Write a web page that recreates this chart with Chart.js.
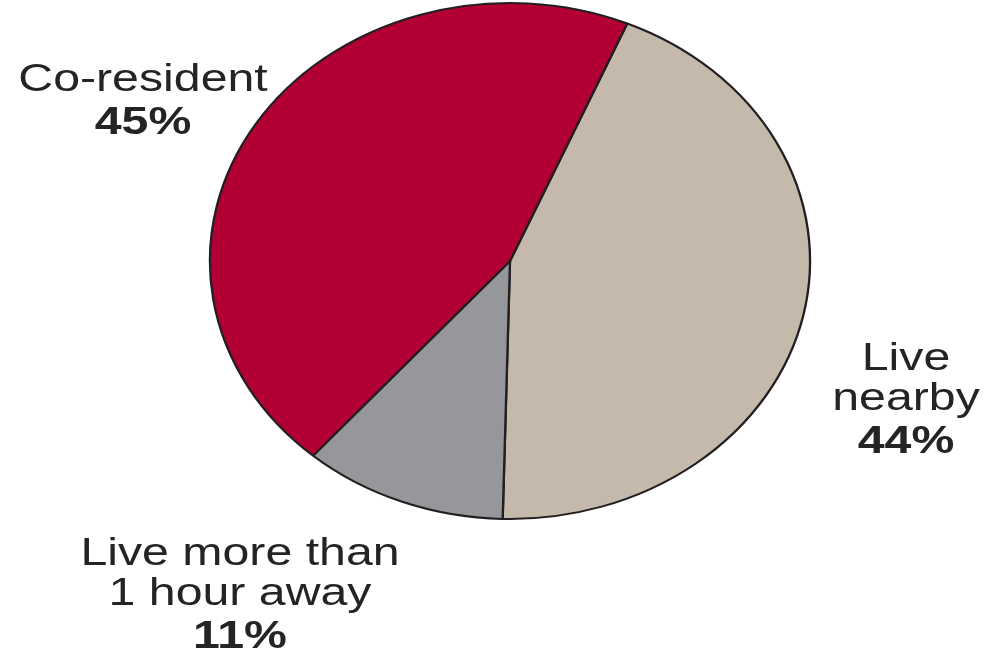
<!DOCTYPE html>
<html>
<head>
<meta charset="utf-8">
<script src="https://cdn.jsdelivr.net/npm/chart.js@4.4.1/dist/chart.umd.min.js"></script>
<style>
  html, body { margin: 0; padding: 0; background: #fff; }
  #wrap { width: 990px; height: 653px; }
</style>
</head>
<body>
<div id="wrap"><canvas id="pieChart"></canvas></div>
<script>
// data, clockwise from the top-right cut
var categories = ['Live nearby', 'Live more than 1 hour away', 'Co-resident'];
var shares = [44, 11, 45];
var labelLines = [['Live', 'nearby'], ['Live more than', '1 hour away'], ['Co-resident']];
var colors = ['rgb(196,185,170)', 'rgb(150,151,155)', 'rgb(178,0,52)'];

// where each text block sits (centre x, first baseline y)
var labelPos = [
    { x: 906, y: 370 },
    { x: 240, y: 565 },
    { x: 143, y: 91 }
];
var stretchX = 1.163;  // pie is an ellipse in the picture
var textStretch = 1.27;

var ellipsePlugin = {
    id: 'ellipse',
    beforeDatasetsDraw: function (chart) {
        var arc = chart.getDatasetMeta(0).data[0];
        var ctx = chart.ctx;
        ctx.save();
        ctx.translate(arc.x, arc.y);
        ctx.scale(stretchX, 1);
        ctx.translate(-arc.x, -arc.y);
    },
    afterDatasetsDraw: function (chart) {
        chart.ctx.restore();
    }
};

var labelPlugin = {
    id: 'pieLabels',
    afterDraw: function (chart) {
        var ctx = chart.ctx;
        ctx.save();
        ctx.fillStyle = '#262324';
        ctx.textAlign = 'center';
        ctx.textBaseline = 'alphabetic';
        categories.forEach(function (c, i) {
            var p = labelPos[i];
            var y = p.y;
            ctx.save();
            ctx.translate(p.x, 0);
            ctx.scale(textStretch, 1);
            ctx.font = '38px "Liberation Sans", Arial, sans-serif';
            labelLines[i].forEach(function (l) {
                ctx.fillText(l, 0, y);
                y += 40;
            });
            ctx.font = 'bold 38px "Liberation Sans", Arial, sans-serif';
            ctx.fillText(shares[i] + '%', 0, y + 3);
            ctx.restore();
        });
        ctx.restore();
    }
};

var ctx = document.getElementById('pieChart');
var pie = new Chart(ctx, {
    type: 'pie',
    data: {
        labels: categories,
        datasets: [{
            data: shares,
            backgroundColor: colors,
            borderColor: '#231f20',
            borderWidth: 2
        }]
    },
    options: {
        responsive: true,
        maintainAspectRatio: false,
        animation: false,
        rotation: 23,
        layout: { padding: { left: 200, right: 170, top: 2, bottom: 133 } },
        plugins: {
            legend: { display: false },
            tooltip: { enabled: false }
        }
    },
    plugins: [ellipsePlugin, labelPlugin]
});
</script>
</body>
</html>
